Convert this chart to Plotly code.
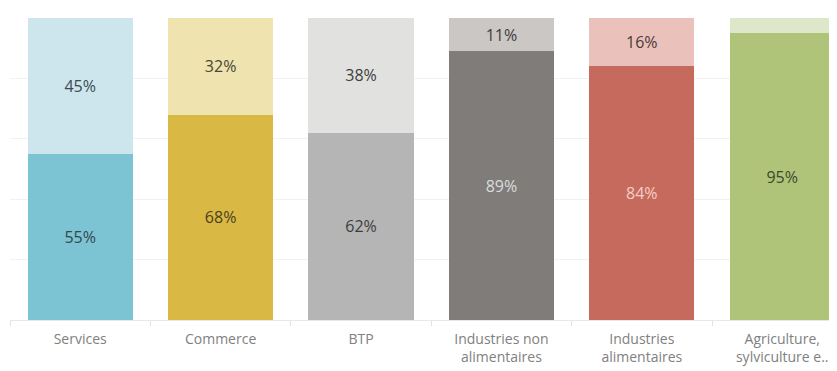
import plotly.graph_objs as go

categories = ['Services', 'Commerce', 'BTP', 'Industries non alimentaires',
              'Industries alimentaires', 'Agriculture, sylviculture et pêche']
tick_labels = ['Services', 'Commerce', 'BTP', 'Industries non<br>alimentaires',
               'Industries<br>alimentaires', 'Agriculture,<br>sylviculture e..']
part_bas = [55, 68, 62, 89, 84, 95]
part_haut = [45, 32, 38, 11, 16, 5]

# couleurs foncées (bas) et claires (haut) par secteur
colors_bas = ['#7cc3d3', '#d9b844', '#b5b5b5', '#7f7c7a', '#c76a5e', '#b0c479']
colors_haut = ['#cde6ee', '#efe3b0', '#e1e1df', '#cbc7c4', '#ebc1bb', '#dfe7cb']
text_bas = ['#34474f', '#4a4120', '#3d3d3d', '#dcdcdc', '#f3cfc8', '#3d4a2a']
text_haut = ['#3e4a50', '#4a4535', '#3d3d3d', '#3d3d3d', '#4a3a38', '#3d3d3d']

fig = go.Figure()
fig.add_trace(go.Bar(
    x=categories, y=part_bas,
    marker=dict(color=colors_bas, line=dict(width=0)),
    text=[f'{v}%' for v in part_bas],
    textposition='inside', insidetextanchor='middle',
    textfont=dict(color=text_bas, size=16),
))
fig.add_trace(go.Bar(
    x=categories, y=part_haut,
    marker=dict(color=colors_haut, line=dict(width=0)),
    text=[f'{v}%' if v >= 10 else '' for v in part_haut],
    textposition='inside', insidetextanchor='middle',
    textfont=dict(color=text_haut, size=16),
))

# la page ajoute 8px de marge autour de la figure
fig.update_layout(
    width=829, height=363,
    barmode='stack', bargap=0.25,
    showlegend=False,
    plot_bgcolor='white', paper_bgcolor='white',
    margin=dict(l=2, r=0, t=10, b=51),
    font=dict(family='Open Sans', color='#666666'),
)
fig.update_xaxes(
    range=[-0.5, 5.39], automargin=False,
    tickvals=categories, ticktext=tick_labels,
    tickson='boundaries', ticks='outside', ticklen=5, tickcolor='#e4e4e4',
    ticklabelstandoff=6,
    tickfont=dict(size=14, color='#808080'),
    showline=True, linecolor='#e8e8e8', showgrid=False,
)
fig.update_yaxes(
    range=[0, 100], dtick=20, automargin=False,
    showticklabels=False, showgrid=True, gridcolor='#f2f2f2',
    zeroline=False,
)

fig.write_html('out.html')
